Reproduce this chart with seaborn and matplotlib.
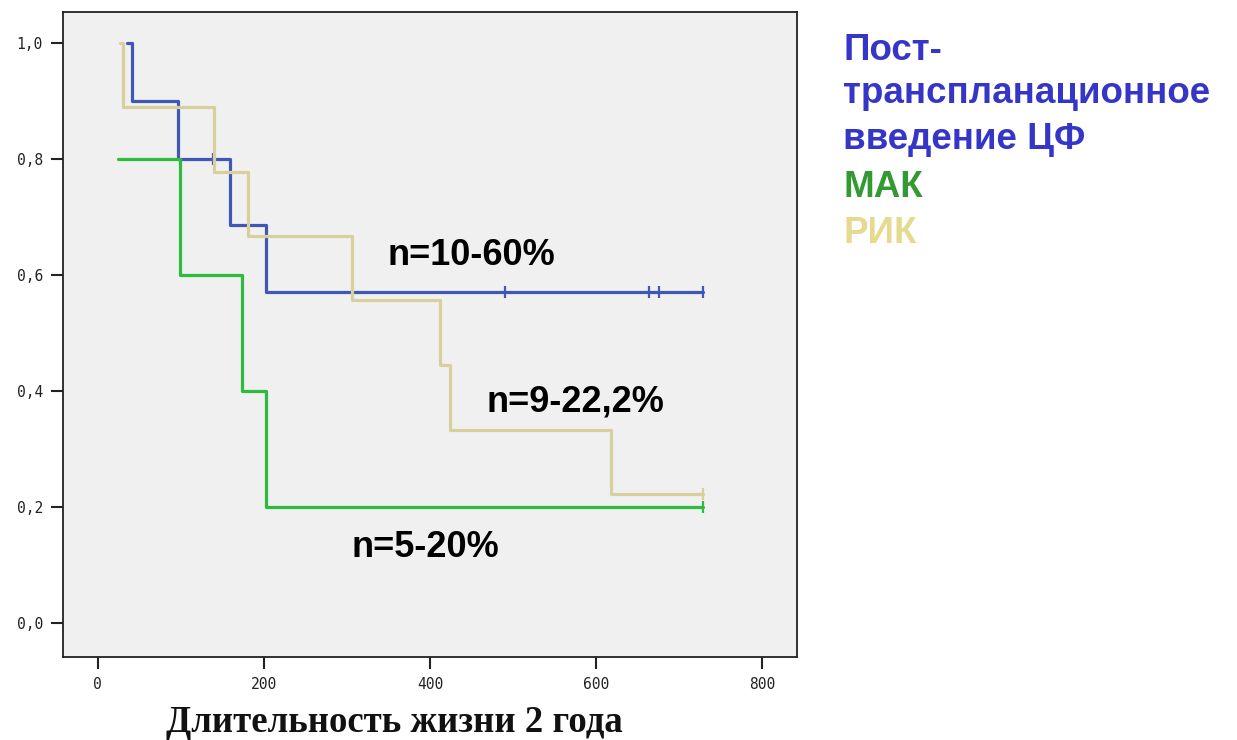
import numpy as np
import pandas as pd
import matplotlib
matplotlib.use("Agg")
import matplotlib.pyplot as plt
import seaborn as sns

# Kaplan–Meier step curves (time in days, cumulative survival)
cy_times = [35, 41, 96, 159, 203, 729]
cy_surv = [1.0, 0.9, 0.8, 0.686, 0.571, 0.571]
cy_cens_t = [139, 490, 664, 676, 729]
cy_cens_s = [0.8, 0.571, 0.571, 0.571, 0.571]

mac_times = [24, 99, 173, 202, 729]
mac_surv = [0.8, 0.6, 0.4, 0.2, 0.2]
mac_cens_t = [729]
mac_cens_s = [0.2]

ric_times = [27, 30, 140, 181, 306, 412, 424, 618, 729]
ric_surv = [1.0, 0.889, 0.778, 0.667, 0.556, 0.444, 0.333, 0.222, 0.222]
ric_cens_t = [729]
ric_cens_s = [0.222]

legend_lines = ["Пост-", "трансплaнационное", "введение ЦФ", "МАК", "РИК"]
annotations = ["n=10-60%", "n=9-22,2%", "n=5-20%"]

x_ticks = [0, 200, 400, 600, 800]
y_ticks = [0.0, 0.2, 0.4, 0.6, 0.8, 1.0]
y_tick_labels = ["0,0", "0,2", "0,4", "0,6", "0,8", "1,0"]

line_colors = ["#4058B5", "#2EBB3E", "#D8CF9C"]
text_colors = ["#3535C8", "#3535C8", "#3535C8", "#339933", "#E6DA90"]

sns.set_theme(style="white")
plt.rcParams["font.family"] = ["DejaVu Sans"]

W, H = 1237, 740
fig = plt.figure(figsize=(W / 100, H / 100), dpi=100)
ax = fig.add_axes([63 / W, 1 - 657 / H, 734 / W, 645 / H])
ax.set_facecolor("#F0F0F0")

curves = [
    (cy_times, cy_surv, cy_cens_t, cy_cens_s, line_colors[0]),
    (mac_times, mac_surv, mac_cens_t, mac_cens_s, line_colors[1]),
    (ric_times, ric_surv, ric_cens_t, ric_cens_s, line_colors[2]),
]
for t, s, ct, cs, col in curves:
    df = pd.DataFrame({"t": t, "s": s})
    sns.lineplot(data=df, x="t", y="s", ax=ax, color=col, lw=2.3,
                 drawstyle="steps-post", estimator=None, sort=False)
    ax.plot(ct, cs, linestyle="none", marker="|", markersize=9,
            markeredgewidth=1.6, color=col)

ax.set_xlim(-42, 842)
ax.set_ylim(-0.059, 1.053)
ax.set_xticks(x_ticks)
ax.set_xticklabels([str(v) for v in x_ticks], family="DejaVu Sans Mono", fontsize=10.5)
ax.set_yticks(y_ticks)
ax.set_yticklabels(y_tick_labels, family="DejaVu Sans Mono", fontsize=10.5)
ax.tick_params(axis="both", direction="out", length=8.5, width=1.5, color="#222222",
               left=True, bottom=True, labelcolor="#222222")
ax.tick_params(axis="y", pad=6)
ax.tick_params(axis="x", pad=6)
for sp in ax.spines.values():
    sp.set_visible(True)
    sp.set_color("#222222")
    sp.set_linewidth(1.3)

ax.set_xlabel("Длительность жизни 2 года", family="Liberation Serif",
              fontweight="bold", fontsize=26.5, color="#111111", va="baseline")
ax.xaxis.set_label_coords((394.5 - 63) / 734, (657 - 732) / 645)
ax.set_ylabel("")

# value labels near each curve
ann_style = dict(fontsize=26, fontweight="bold", family="Liberation Sans",
                 color="black", va="baseline", ha="left")
ax.text(349, 0.617, annotations[0], **ann_style)
ax.text(468, 0.364, annotations[1], **ann_style)
ax.text(306, 0.114, annotations[2], **ann_style)

# group legend as coloured text
baselines = [60, 103, 149, 197, 243]
for txt, col, b in zip(legend_lines, text_colors, baselines):
    fig.text(843 / W, 1 - b / H, txt, color=col, fontsize=26.5,
             fontweight="bold", family="Liberation Sans",
             va="baseline", ha="left")

fig.savefig("out.png", dpi=100, facecolor="white")
